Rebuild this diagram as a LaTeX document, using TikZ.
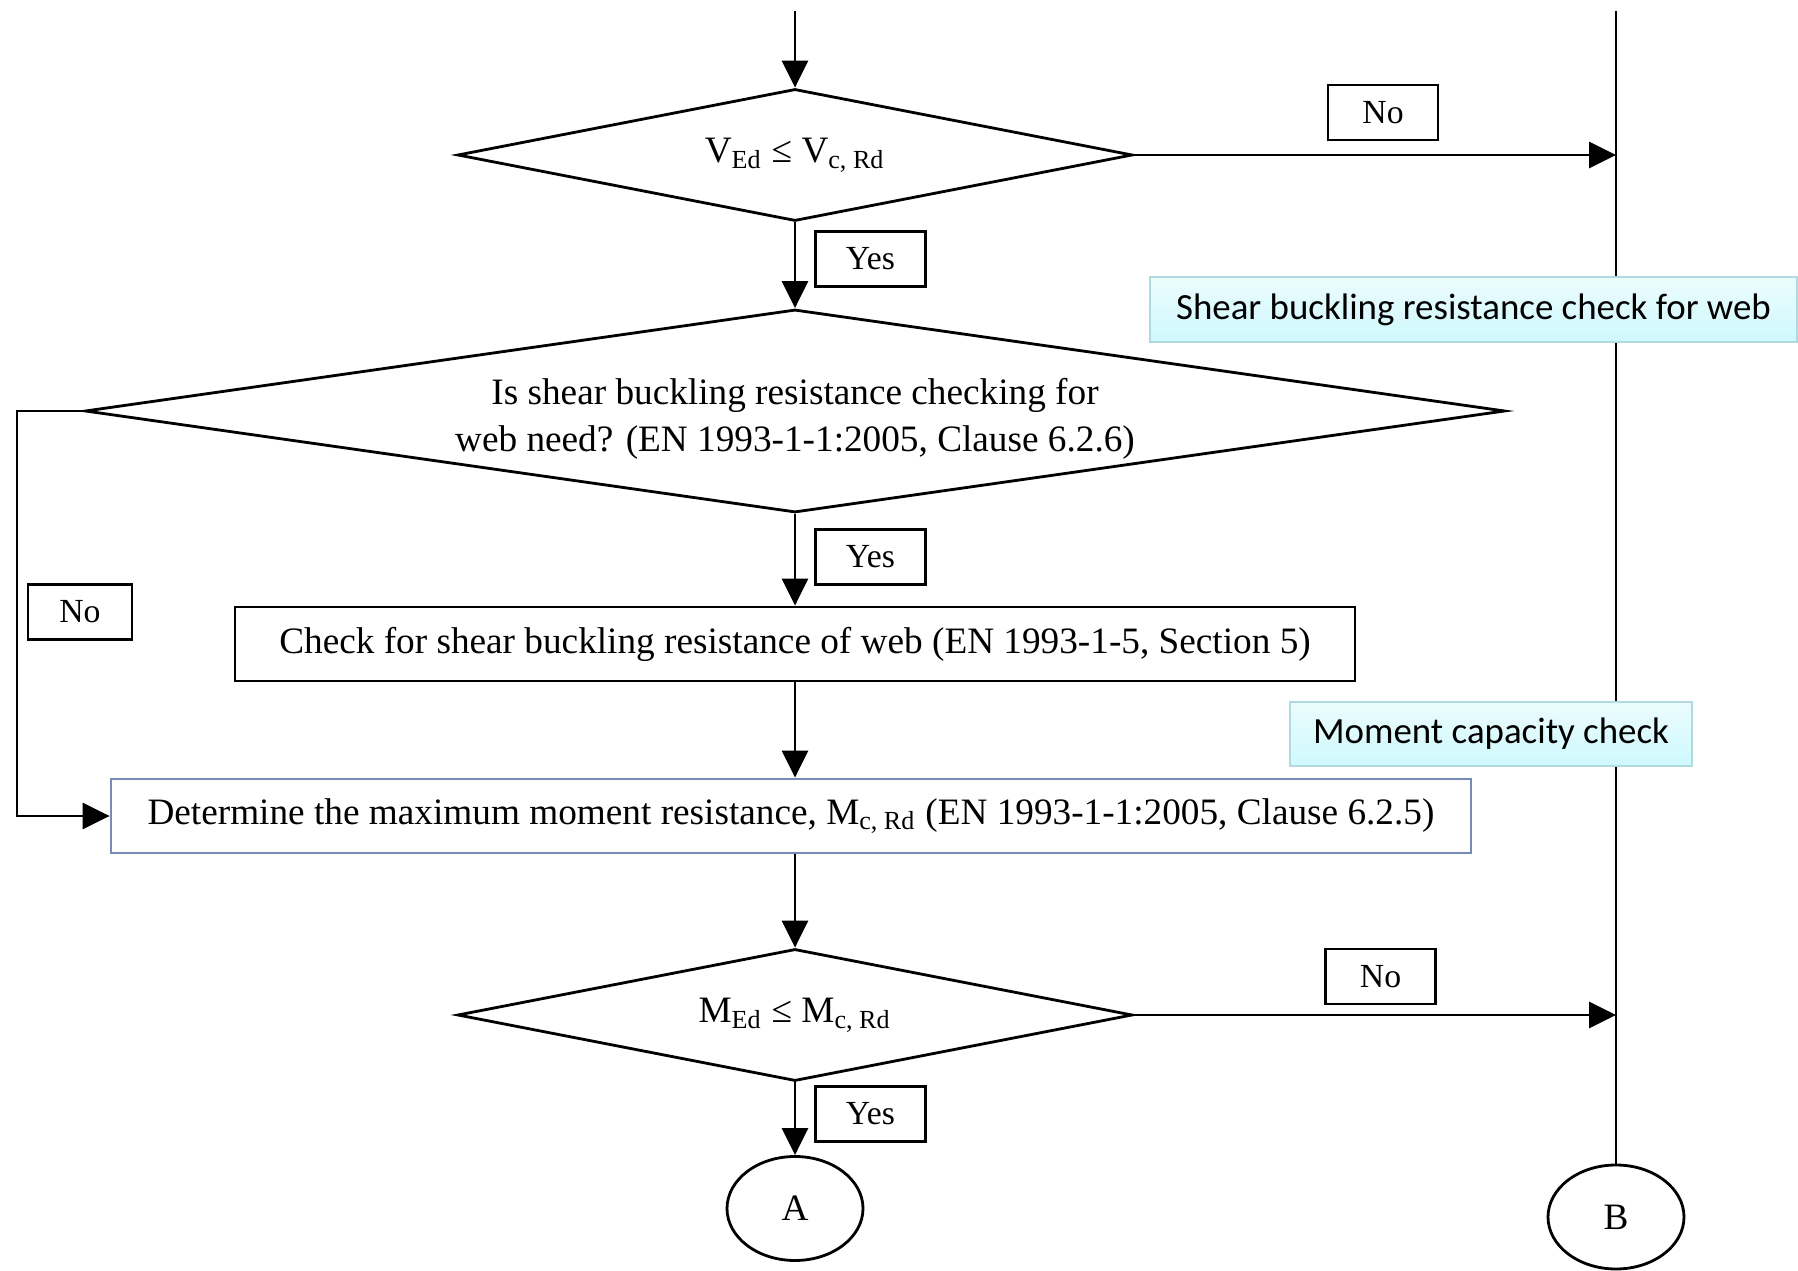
\documentclass[tikz,border=0pt]{standalone}
\usepackage{fontspec}
\setmainfont{Liberation Serif}
\newfontfamily\labelfont{Carlito}
\usetikzlibrary{arrows.meta,shapes.geometric}
\definecolor{boxedge}{RGB}{118,140,182}
\definecolor{tagfillA}{RGB}{236,252,253}
\definecolor{tagfillB}{RGB}{206,249,253}
\definecolor{tagedge}{RGB}{176,218,224}
\begin{document}
\begin{tikzpicture}[>={Triangle[length=2.7mm,width=2.6mm]},line width=0.8pt,
  font=\fontsize{10.6}{13.4}\selectfont,
  decision/.style={draw,shape=diamond,inner sep=0pt,align=center},
  answer/.style={draw,line width=0.7pt,minimum width=1.1cm,minimum height=0.55cm,inner sep=0pt,
    font=\fontsize{9.6}{11}\selectfont},
  process/.style={draw,minimum height=0.74cm,inner sep=0pt},
  tag/.style={draw=tagedge,line width=0.6pt,top color=tagfillA,bottom color=tagfillB,
    minimum height=0.65cm,inner sep=0pt,font=\labelfont\fontsize{10.5}{12}\selectfont},
  terminal/.style={draw,ellipse,minimum width=1.36cm,minimum height=1.04cm,inner sep=0pt}]
  \useasboundingbox (0,0) rectangle (17.98,-12.71);

  % 起点与右侧汇合线
  \coordinate (top) at (7.95,-0.11);
  \coordinate (rtop) at (16.16,-0.11);
  \coordinate (r1) at (16.16,-1.55);
  \coordinate (r3) at (16.16,-10.15);
  \coordinate (lp) at (0.17,-4.11);

  % 剪力验算
  \node[decision,aspect=5.11,minimum width=6.75cm,minimum height=1.32cm] (d1) at (7.95,-1.55)
    {V\textsubscript{Ed} ≤ V\textsubscript{c, Rd}};
  \node[answer] (no1) at (13.83,-1.125) {No};
  \node[answer] (yes1) at (8.705,-2.59) {Yes};

  % 腹板剪切屈曲
  \node[decision,aspect=7,minimum width=14.2cm,minimum height=2.03cm] (d2) at (7.95,-4.11)
    {\rule{0pt}{0.42cm}Is shear buckling resistance checking for\\web need? (EN 1993-1-1:2005, Clause 6.2.6)};
  \node[answer] (yes2) at (8.705,-5.57) {Yes};
  \node[answer,minimum width=1.04cm] (no2) at (0.80,-6.12) {No};
  \node[process,minimum width=11.2cm] (chk) at (7.95,-6.44)
    {Check for shear buckling resistance of web (EN 1993-1-5, Section 5)};

  % 弯矩验算
  \node[process,draw=boxedge,minimum width=13.6cm] (mom) at (7.91,-8.16)
    {Determine the maximum moment resistance, M\textsubscript{c, Rd} (EN 1993-1-1:2005, Clause 6.2.5)};
  \node[decision,aspect=5.11,minimum width=6.75cm,minimum height=1.32cm] (d3) at (7.95,-10.15)
    {M\textsubscript{Ed} ≤ M\textsubscript{c, Rd}};
  \node[answer] (no3) at (13.805,-9.765) {No};
  \node[answer] (yes3) at (8.705,-11.14) {Yes};

  % 出口
  \node[terminal] (A) at (7.95,-12.085) {A};
  \node[terminal] (B) at (16.16,-12.17) {B};

  % 连线
  \draw[->] (top) -- (d1.north);
  \draw[->] (d1.south) -- (d2.north);
  \draw[->] (d1.east) -- (r1);
  \draw[->] (d2.south) -- (chk.north);
  \draw[->] (chk.south) -- (chk.south |- mom.north);
  \draw[->] (d2.west) -- (lp) |- (mom.west);
  \draw[->] (d3.north |- mom.south) -- (d3.north);
  \draw[->] (d3.east) -- (r3);
  \draw[->] (d3.south) -- (A.north);
  \draw (rtop) -- (B.north);

  % 说明标签
  \node[tag,minimum width=6.47cm,anchor=east] (sbl) at (17.98,-3.095)
    {Shear buckling resistance check for web};
  \node[tag,minimum width=4.02cm,minimum height=0.64cm] (mcc) at (14.91,-7.34) {Moment capacity check};
\end{tikzpicture}
\end{document}
